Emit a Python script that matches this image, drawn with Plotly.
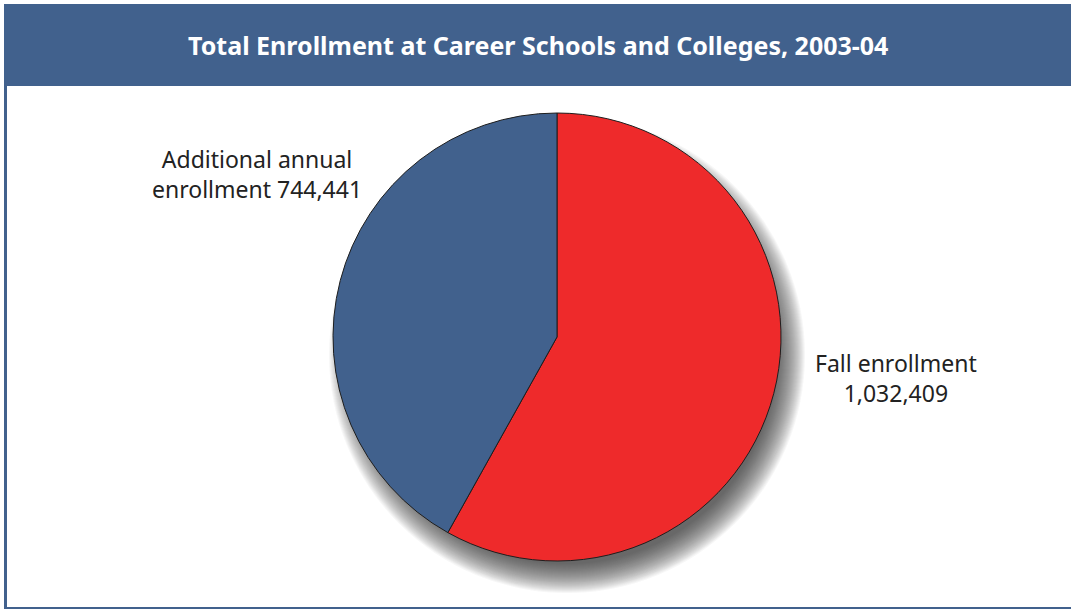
import plotly.graph_objects as go

# Enrollment figures, 2003-04
categories = ["Fall enrollment", "Additional annual enrollment"]
enrollment = [1032409, 744441]
slice_colors = ["#ee2a2b", "#41618d"]
title_text = "Total Enrollment at Career Schools and Colleges, 2003-04"

W, H = 1071, 609
CX, CY, R = 557, 337, 224  # pie centre and radius in pixels

fig = go.Figure()

fig.add_trace(go.Pie(
    labels=categories,
    values=enrollment,
    sort=False,
    direction="clockwise",
    rotation=0,
    marker=dict(colors=slice_colors, line=dict(color="#1e1e1e", width=1)),
    textinfo="none",
    hoverinfo="label+value",
    showlegend=False,
    domain=dict(x=[(CX - R) / W, (CX + R) / W],
                y=[1 - (CY + R) / H, 1 - (CY - R) / H]),
))

shapes = []
# header band
shapes.append(dict(type="rect", xref="x", yref="y", x0=4, x1=W, y0=4, y1=86,
                   fillcolor="#41618d", line=dict(width=0), layer="below"))
# frame lines on the left and bottom
shapes.append(dict(type="line", xref="x", yref="y", x0=5.5, x1=5.5, y0=86, y1=608,
                   line=dict(color="#41618d", width=3), layer="below"))
shapes.append(dict(type="line", xref="x", yref="y", x0=4, x1=W, y0=608, y1=608,
                   line=dict(color="#41618d", width=2), layer="below"))

# soft drop shadow behind the pie, offset down and to the right
sx, sy = CX + 10, CY + 18
steps = 30
for i in range(steps):
    r = R + 14 - i * 1.0
    shapes.append(dict(type="circle", xref="x", yref="y",
                       x0=sx - r, x1=sx + r, y0=sy - r, y1=sy + r,
                       fillcolor="rgba(55,57,63,0.038)", line=dict(width=0),
                       layer="below"))

fig.update_layout(
    width=W, height=H,
    margin=dict(l=0, r=0, t=0, b=0),
    paper_bgcolor="white", plot_bgcolor="white",
    xaxis=dict(range=[0, W], visible=False, fixedrange=True),
    yaxis=dict(range=[H, 0], visible=False, fixedrange=True),
    shapes=shapes,
    annotations=[
        dict(x=538, y=45, xref="x", yref="y", text="<b>" + title_text + "</b>",
             showarrow=False, font=dict(family="Noto Sans", size=25, color="white"),
             xanchor="center", yanchor="middle"),
        dict(x=257, y=174, xref="x", yref="y",
             text="Additional annual<br>enrollment 744,441",
             showarrow=False, align="center",
             font=dict(family="Noto Sans", size=23, color="#222222"),
             xanchor="center", yanchor="middle"),
        dict(x=896, y=378, xref="x", yref="y",
             text="Fall enrollment<br>1,032,409",
             showarrow=False, align="center",
             font=dict(family="Noto Sans", size=23, color="#222222"),
             xanchor="center", yanchor="middle"),
    ],
)

fig.write_html("out.html")
